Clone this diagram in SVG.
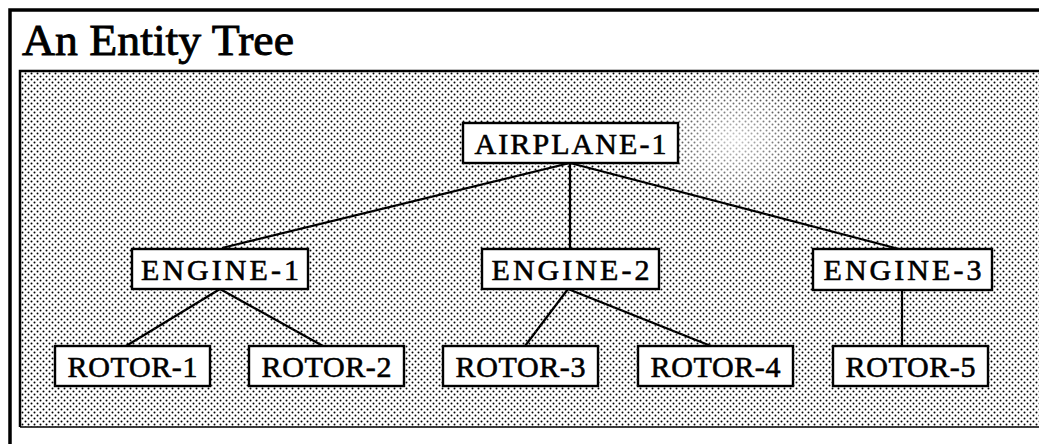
<svg xmlns="http://www.w3.org/2000/svg" width="1039" height="444" viewBox="0 0 1039 444">
<defs>
<pattern id="dots" width="6" height="6" patternUnits="userSpaceOnUse">
<circle cx="1.5" cy="1.5" r="1" fill="#000"/>
<circle cx="4.5" cy="4.5" r="1" fill="#000"/>
</pattern>
<radialGradient id="fade" cx="0.5" cy="0.5" r="0.5">
<stop offset="0" stop-color="#fff" stop-opacity="0.8"/>
<stop offset="0.6" stop-color="#fff" stop-opacity="0.35"/>
<stop offset="1" stop-color="#fff" stop-opacity="0"/>
</radialGradient>
</defs>
<style>
.box{fill:#fff;stroke:#000;stroke-width:2.4}
.lbl{font-family:"Liberation Serif","Times New Roman",serif;font-size:30px;fill:#000;stroke:#000;stroke-width:0.6;text-anchor:middle}
.edge{stroke:#000;stroke-width:2.2;fill:none}
</style>
<rect x="0" y="0" width="1039" height="444" fill="#fff"/>
<path d="M10,444 V10 H1039" fill="none" stroke="#000" stroke-width="3.5"/>
<text x="22" y="55" font-family="'Liberation Serif','Times New Roman',serif" font-size="45" stroke="#000" stroke-width="0.9" textLength="272" lengthAdjust="spacingAndGlyphs">An Entity Tree</text>
<rect x="20" y="71" width="1030" height="356" fill="url(#dots)"/>
<ellipse cx="735" cy="140" rx="95" ry="75" fill="url(#fade)"/>
<path d="M20,427 V71 H1039" fill="none" stroke="#000" stroke-width="2.5"/>
<path d="M20,427 H1039" fill="none" stroke="#000" stroke-width="1.5"/>
<g id="connectors">
<line class="edge" x1="570" y1="163" x2="570" y2="249"/>
<line class="edge" x1="570" y1="163" x2="222" y2="248"/>
<line class="edge" x1="570" y1="163" x2="899" y2="249"/>
<line class="edge" x1="220" y1="289" x2="126" y2="346"/>
<line class="edge" x1="220" y1="289" x2="323" y2="346"/>
<line class="edge" x1="568" y1="289" x2="525" y2="346"/>
<line class="edge" x1="568" y1="289" x2="711" y2="346"/>
<line class="edge" x1="902" y1="290" x2="902" y2="346"/>
</g>
<g id="airplane-1"><rect class="box" x="463" y="123" width="215" height="40"/><text class="lbl" x="570.5" y="154" textLength="192" lengthAdjust="spacing">AIRPLANE-1</text></g>
<g id="engine-1"><rect class="box" x="132" y="249" width="176" height="40"/><text class="lbl" x="220" y="280" textLength="158" lengthAdjust="spacing">ENGINE-1</text></g>
<g id="engine-2"><rect class="box" x="482" y="249" width="177" height="40"/><text class="lbl" x="570.5" y="280" textLength="158" lengthAdjust="spacing">ENGINE-2</text></g>
<g id="engine-3"><rect class="box" x="813" y="249" width="179" height="41"/><text class="lbl" x="902.5" y="280" textLength="158" lengthAdjust="spacing">ENGINE-3</text></g>
<g id="rotor-1"><rect class="box" x="55" y="346" width="155" height="40"/><text class="lbl" x="132.5" y="377" textLength="130" lengthAdjust="spacing">ROTOR-1</text></g>
<g id="rotor-2"><rect class="box" x="249" y="346" width="155" height="40"/><text class="lbl" x="326.5" y="377" textLength="130" lengthAdjust="spacing">ROTOR-2</text></g>
<g id="rotor-3"><rect class="box" x="443" y="346" width="155" height="40"/><text class="lbl" x="520.5" y="377" textLength="130" lengthAdjust="spacing">ROTOR-3</text></g>
<g id="rotor-4"><rect class="box" x="638" y="346" width="155" height="40"/><text class="lbl" x="715.5" y="377" textLength="130" lengthAdjust="spacing">ROTOR-4</text></g>
<g id="rotor-5"><rect class="box" x="833" y="346" width="155" height="40"/><text class="lbl" x="910.5" y="377" textLength="130" lengthAdjust="spacing">ROTOR-5</text></g>
</svg>
